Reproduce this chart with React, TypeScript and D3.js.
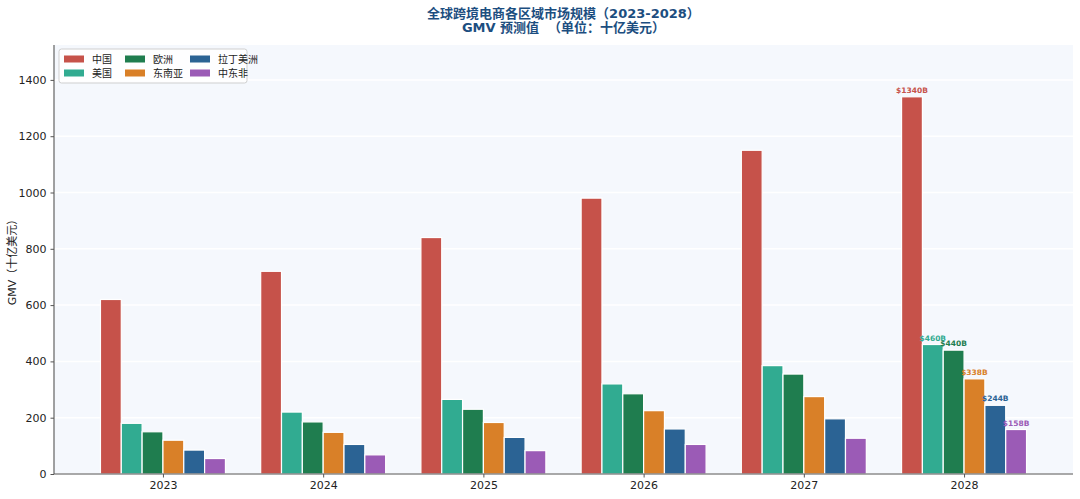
import { useRef, useEffect } from "react";
import * as d3 from "d3";

const years = ["2023", "2024", "2025", "2026", "2027", "2028"];
const regions = ["中国", "美国", "欧洲", "东南亚", "拉丁美洲", "中东非"];
const colors = ["#c6524a", "#31ab91", "#1f7d4f", "#d98028", "#2b6394", "#9b5bb6"];

const china = [620, 720, 840, 980, 1150, 1340];
const usa = [180, 220, 265, 320, 385, 460];
const europe = [150, 185, 230, 285, 355, 440];
const sea = [120, 148, 183, 225, 275, 338];
const latam = [85, 105, 130, 160, 196, 244];
const mea = [55, 68, 83, 105, 127, 158];
const series = [china, usa, europe, sea, latam, mea];

const yTicks = [0, 200, 400, 600, 800, 1000, 1200, 1400];

const W = 1080;
const H = 499;
const FONT = "'DejaVu Sans', 'Noto Sans CJK SC', sans-serif";

export default function App() {
  const svgRef = useRef(null);

  useEffect(() => {
    const svg = d3.select(svgRef.current);
    svg.selectAll("*").remove();

    const left = 54, right = 1073, top = 45, bottom = 474;

    const x = d3.scaleLinear().domain([-0.68, 5.68]).range([left, right]);
    const y = d3.scaleLinear().domain([0, 1524]).range([bottom, top]);
    const bw = 0.13;

    svg.append("rect")
      .attr("x", left).attr("y", top)
      .attr("width", right - left).attr("height", bottom - top)
      .attr("fill", "#f5f8fd");

    // grid
    svg.append("g")
      .selectAll("line")
      .data(yTicks)
      .join("line")
      .attr("x1", left).attr("x2", right)
      .attr("y1", d => y(d)).attr("y2", d => y(d))
      .attr("stroke", "#ffffff")
      .attr("stroke-width", 1.5);

    // bars
    series.forEach((vals, j) => {
      svg.append("g")
        .selectAll("rect")
        .data(vals)
        .join("rect")
        .attr("x", (d, i) => x(i + (j - 2.5) * bw - bw / 2))
        .attr("width", x(bw) - x(0))
        .attr("y", d => y(d))
        .attr("height", d => y(0) - y(d))
        .attr("fill", colors[j])
        .attr("stroke", "#ffffff")
        .attr("stroke-width", 1.2);

      // value label on the last year only
      const last = vals.length - 1;
      svg.append("text")
        .attr("x", x(last + (j - 2.5) * bw))
        .attr("y", y(vals[last]) - 4)
        .attr("text-anchor", "middle")
        .attr("font-family", FONT)
        .attr("font-size", "7.5px")
        .attr("font-weight", "bold")
        .attr("fill", colors[j])
        .text(`$${vals[last]}B`);
    });

    // axes
    const yAxis = svg.append("g")
      .attr("transform", `translate(${left},0)`)
      .call(d3.axisLeft(y).tickValues(yTicks).tickFormat(d3.format("d")).tickSize(3.5).tickPadding(4));
    const xAxis = svg.append("g")
      .attr("transform", `translate(0,${bottom})`)
      .call(d3.axisBottom(x).tickValues(d3.range(years.length)).tickFormat((d: any) => years[d]).tickSize(3.5).tickPadding(4));

    [yAxis, xAxis].forEach(ax => {
      ax.select(".domain").attr("stroke", "#555").attr("stroke-width", 1.1);
      ax.selectAll(".tick line").attr("stroke", "#555");
      ax.selectAll(".tick text")
        .attr("font-family", FONT)
        .attr("font-size", "11px")
        .attr("fill", "#222");
    });
    xAxis.select(".domain").attr("d", `M${left},0H${right}`);
    yAxis.select(".domain").attr("d", `M0,${bottom}V${top}`);

    // y label
    svg.append("text")
      .attr("transform", `translate(16,${(top + bottom) / 2}) rotate(-90)`)
      .attr("text-anchor", "middle")
      .attr("font-family", FONT)
      .attr("font-size", "11px")
      .attr("fill", "#222")
      .text("GMV（十亿美元）");

    // title
    const title = svg.append("text")
      .attr("text-anchor", "middle")
      .attr("font-family", FONT)
      .attr("font-size", "13px")
      .attr("font-weight", "bold")
      .attr("fill", "#1c4e80");
    title.append("tspan").attr("x", (left + right) / 2).attr("y", 18)
      .text("全球跨境电商各区域市场规模（2023-2028）");
    title.append("tspan").attr("x", (left + right) / 2).attr("y", 32)
      .text("GMV 预测值\u00a0\u00a0（单位：十亿美元）");

    // legend
    const lg = svg.append("g").attr("transform", "translate(59,49)");
    lg.append("rect")
      .attr("width", 188).attr("height", 34).attr("rx", 2.5)
      .attr("fill", "#ffffff").attr("fill-opacity", 0.85)
      .attr("stroke", "#cfcfcf");
    const colX = [5, 66, 131];
    regions.forEach((r, j) => {
      const cx = colX[Math.floor(j / 2)];
      const cy = 10 + (j % 2) * 14;
      lg.append("rect")
        .attr("x", cx).attr("y", cy - 3.5)
        .attr("width", 20).attr("height", 7)
        .attr("fill", colors[j]);
      lg.append("text")
        .attr("x", cx + 28).attr("y", cy + 3.5)
        .attr("font-family", FONT)
        .attr("font-size", "10px")
        .attr("fill", "#222")
        .text(r);
    });
  }, []);

  return (
    <svg ref={svgRef} width={W} height={H}
      style={{ position: "absolute", left: 0, top: 0, background: "#ffffff" }} />
  );
}
